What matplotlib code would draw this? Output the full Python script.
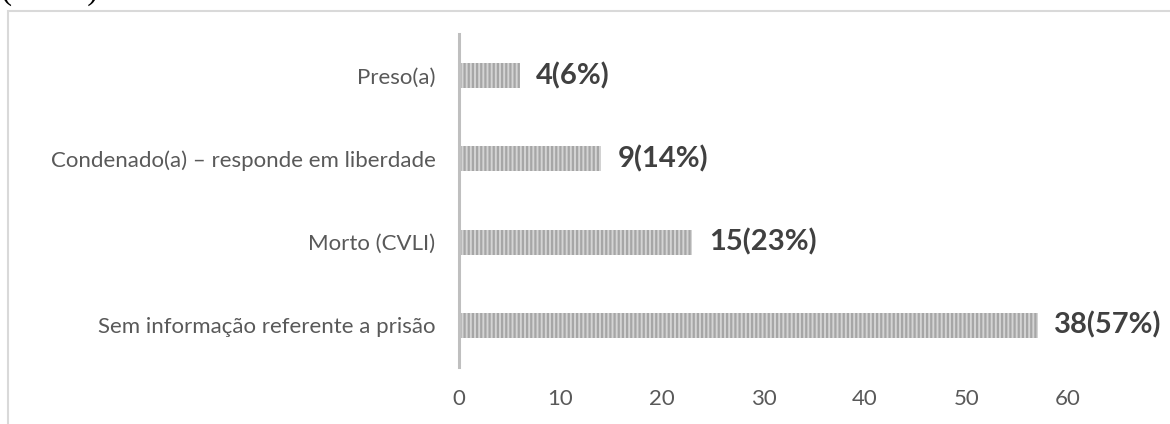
import matplotlib
matplotlib.use("Agg")
import matplotlib.pyplot as plt
from matplotlib.patches import Rectangle

categories = ["Sem informação referente a prisão", "Morto (CVLI)",
              "Condenado(a) – responde em liberdade", "Preso(a)"]
counts = [38, 15, 9, 4]
percents = [57, 23, 14, 6]
xticks = [0, 10, 20, 30, 40, 50, 60]

W, H = 1170, 424
fig = plt.figure(figsize=(W / 100, H / 100), dpi=100)
fig.patch.set_facecolor("white")

# light outer frame of the chart area
fig.patches.append(Rectangle((8 / W, -0.05), 1.2, 1 - 11 / H + 0.05,
                             transform=fig.transFigure, fill=False,
                             edgecolor="#d9d9d9", linewidth=1.5))

# caption line above the chart (mostly outside the page)
fig.text(1 / W, 1 + 1 / H, "(N=66)", family="Liberation Serif", fontsize=24,
         va="baseline", ha="left", color="black")

ax_left, ax_right = 459, 1068
ax_top, ax_bottom = 34, 367
ax = fig.add_axes([ax_left / W, 1 - ax_bottom / H,
                   (ax_right - ax_left) / W, (ax_bottom - ax_top) / H])

font = "Lato"
y = list(range(len(categories)))
plt.rcParams["hatch.linewidth"] = 1.6
bars = ax.barh(y, percents, height=0.30, color="#d4d4d4",
               edgecolor="#a6a6a6", hatch="||||", linewidth=0)

for yi, c, p in zip(y, counts, percents):
    ax.text(p + 1.6, yi, f"{c}({p}%)", va="center", ha="left",
            fontsize=21, fontweight="bold", color="#404040",
            family=font, clip_on=False)

ax.set_xlim(0, 60)
ax.set_ylim(-0.5, len(categories) - 0.5)
ax.set_xticks(xticks)
ax.set_xticklabels([str(t) for t in xticks], family=font, fontsize=16,
                   color="#595959")
ax.set_yticks(y)
ax.set_yticklabels(categories, family=font, fontsize=16, color="#595959")
ax.tick_params(axis="both", length=0)
ax.tick_params(axis="x", pad=16)
ax.tick_params(axis="y", pad=17)

for s in ["top", "right", "bottom"]:
    ax.spines[s].set_visible(False)
ax.spines["left"].set_color("#bfbfbf")
ax.spines["left"].set_linewidth(2.2)
ax.patch.set_alpha(0)

fig.savefig("out.png", dpi=100, facecolor="white")
